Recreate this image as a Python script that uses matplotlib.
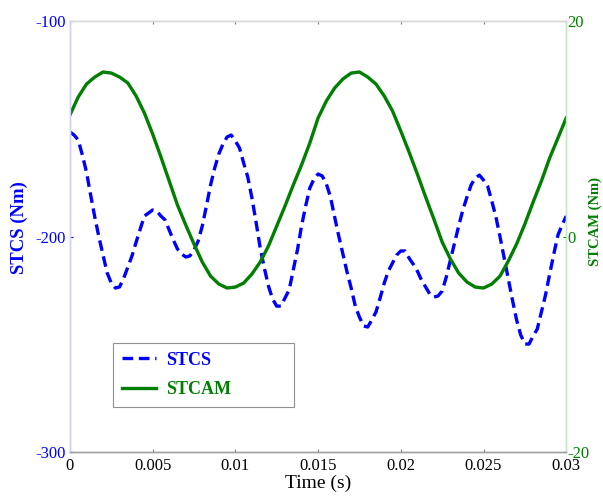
import numpy as np
import matplotlib
matplotlib.use('Agg')
import matplotlib.pyplot as plt

# STCS torque (Nm), left axis, sampled every 0.25 ms
stcs_time = np.arange(121) * 0.00025
stcs = [-151.5, -152.9, -155.2, -162.2, -170.1, -180.7, -190.9, -200.2, -208.6, -216.9,
        -221.6, -223.9, -223.4, -219.3, -214.2, -209.0, -202.6, -196.5, -190.5, -189.1,
        -187.7, -188.2, -190.5, -192.3, -197.0, -201.6, -205.8, -208.1, -209.5, -209.0,
        -206.3, -202.1, -195.1, -185.8, -176.1, -168.2, -161.7, -157.1, -153.8, -152.9,
        -155.7, -158.9, -165.9, -172.4, -182.1, -193.3, -205.3, -214.6, -223.0, -229.0,
        -232.3, -232.3, -228.5, -224.8, -215.5, -206.3, -195.1, -185.8, -177.5, -173.3,
        -171.0, -171.9, -175.6, -181.7, -190.9, -199.8, -208.1, -216.5, -223.9, -232.3,
        -237.4, -241.5, -242.0, -238.7, -235.0, -228.5, -221.6, -216.0, -212.3, -208.6,
        -206.7, -206.7, -210.0, -212.8, -216.0, -220.2, -223.4, -226.7, -228.1, -227.6,
        -225.3, -218.8, -210.9, -203.0, -195.1, -187.7, -181.7, -176.1, -172.9, -171.5,
        -173.8, -176.6, -183.5, -190.9, -200.2, -210.0, -219.7, -229.5, -238.7, -245.7,
        -249.9, -249.9, -246.2, -242.9, -235.0, -227.1, -217.4, -208.1, -199.3, -194.7,
        -190.5]

# STCAM torque (Nm), right axis, sampled every 0.5 ms
stcam_time = np.arange(61) * 0.0005
stcam = [11.28, 12.95, 14.15, 14.80, 15.27, 15.17, 14.80, 14.25, 13.04, 11.46,
         9.51, 7.38, 5.15, 2.92, 1.07, -0.70, -2.37, -3.67, -4.41, -4.78,
         -4.69, -4.32, -3.48, -2.37, -0.88, 0.97, 2.83, 4.78, 6.64, 8.68,
         11.00, 12.58, 13.78, 14.62, 15.17, 15.27, 14.80, 14.15, 13.04, 11.65,
         9.79, 7.84, 5.80, 3.67, 1.62, -0.51, -2.09, -3.39, -4.22, -4.69,
         -4.78, -4.41, -3.67, -2.27, -0.70, 1.16, 3.20, 5.15, 7.29, 9.14,
         11.00]

x_ticks = [0, 0.005, 0.01, 0.015, 0.02, 0.025, 0.03]
x_tick_labels = ['0', '0.005', '0.01', '0.015', '0.02', '0.025', '0.03']
left_ticks = [-300, -200, -100]
right_ticks = [-20, 0, 20]

blue = '#0000ff'
green = '#007f00'

plt.rcParams['font.family'] = ['Liberation Serif', 'DejaVu Serif']

fig = plt.figure(figsize=(6.03, 4.97), dpi=100)
ax = fig.add_axes([0.116, 0.0905, 0.823, 0.8672])
ax2 = ax.twinx()

l1, = ax.plot(stcs_time, stcs, color=blue, lw=2.4, dashes=(3.2, 1.7), label='STCS')
l2, = ax2.plot(stcam_time, stcam, color=green, lw=2.4, label='STCAM')

ax.set_xlim(0, 0.03)
ax.set_ylim(-300, -100)
ax2.set_ylim(-20, 20)

ax.set_xticks(x_ticks)
ax.set_xticklabels(x_tick_labels)
ax.set_yticks(left_ticks)
ax.set_yticklabels([str(v) for v in left_ticks])
ax2.set_yticks(right_ticks)
ax2.set_yticklabels([str(v) for v in right_ticks])

ax.tick_params(axis='x', direction='in', length=2, color='#808080', labelsize=12,
               top=True, pad=4)
ax.tick_params(axis='y', direction='in', length=2, color=blue, labelcolor=blue,
               labelsize=12, pad=3)
ax2.tick_params(axis='y', direction='in', length=2, color=green, labelcolor=green,
                labelsize=12, pad=1)

for a in (ax, ax2):
    a.spines['top'].set_color('#d8d8d8')
    a.spines['bottom'].set_color('#a0a0a0')
    a.spines['left'].set_color('#d0d0ff')
    a.spines['right'].set_color('#c8e6c8')
    for s in a.spines.values():
        s.set_linewidth(1.0)

ax.set_xlabel('Time (s)', fontsize=14, labelpad=1)
ax.set_ylabel('STCS (Nm)', color=blue, fontsize=13.5, fontweight='bold')
ax2.set_ylabel('STCAM (Nm)', color=green, fontsize=10.5, fontweight='bold')
ax.yaxis.set_label_coords(-0.085, 0.52)
ax2.yaxis.set_label_coords(1.044, 0.535)

leg = ax2.legend([l1, l2], ['STCS', 'STCAM'], loc='lower left',
                 bbox_to_anchor=(0.087, 0.104, 0.365, 0.149), mode='expand',
                 borderaxespad=0, fancybox=False, edgecolor='#909090', framealpha=1,
                 prop={'weight': 'bold', 'size': 13}, labelcolor=[blue, green],
                 handlelength=1.85, handletextpad=0.6, borderpad=0.5, labelspacing=0.7)
leg.get_frame().set_linewidth(0.8)

fig.savefig('out.png', dpi=100)
